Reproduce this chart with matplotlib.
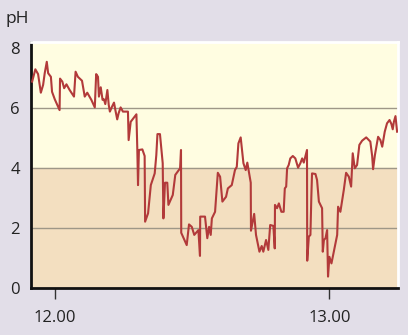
import matplotlib
matplotlib.use("Agg")
import matplotlib.pyplot as plt

# time in minutes after 12.00, pH
minutes = [
    -5.0, -4.3, -3.7, -3.1, -2.6, -2.25, -1.8, -1.5, -0.9, -0.65, -0.05, 1.0,
    1.1, 1.6, 2.0, 2.5, 3.2, 4.15, 4.5, 5.0, 5.9, 6.5, 7.05, 7.95, 8.7, 9.0,
    9.4, 9.6, 10.0, 10.4, 10.7, 11.0, 11.45, 11.75, 12.0, 12.45, 12.9, 13.2,
    13.6, 13.9, 14.35, 14.85, 15.95, 16.1, 16.55, 17.8, 18.0, 18.15, 18.35,
    19.1, 19.6, 19.7, 20.35, 20.95, 21.8, 22.15, 22.4, 22.95, 23.55, 23.7,
    24.05, 24.55, 24.8, 25.75, 26.3, 27.35, 27.55, 27.6, 28.8, 29.3, 29.9,
    30.45, 31.35, 31.7, 31.75, 32.8, 33.3, 33.7, 34.05, 34.3, 35.0, 35.6,
    36.1, 36.6, 37.4, 37.8, 38.65, 39.35, 39.75, 40.1, 40.6, 41.2, 41.7,
    42.05, 42.8, 42.85, 43.55, 43.95, 44.7, 45.2, 45.55, 46.15, 46.65, 47.05,
    47.75, 48.05, 48.1, 48.55, 48.95, 49.5, 50.0, 50.25, 50.55, 50.75, 51.1,
    51.45, 52.0, 52.55, 53.15, 53.65, 54.05, 54.4, 55.1, 55.15, 55.5, 55.85,
    56.05, 56.2, 56.95, 57.3, 57.7, 58.4, 58.55, 58.8, 59.15, 59.5, 59.7,
    60.0, 60.45, 61.2, 61.7, 61.9, 62.4, 63.15, 63.65, 64.25, 64.75, 65.1,
    65.55, 66.05, 66.55, 67.15, 68.05, 68.95, 69.35, 69.55, 69.95, 70.65,
    71.15, 71.55, 72.1, 72.6, 73.15, 73.55, 73.85, 74.1, 74.45, 74.8,
]
ph = [
    6.88, 7.29, 7.13, 6.51, 6.77, 7.16, 7.54, 7.16, 7.04, 6.54, 6.29, 5.93,
    6.98, 6.88, 6.66, 6.79, 6.6, 6.38, 7.21, 7.04, 6.91, 6.38, 6.51, 6.27,
    6.02, 7.13, 7.04, 6.38, 6.69, 6.27, 6.29, 6.13, 6.6, 6.1, 5.88, 6.04,
    6.18, 5.93, 5.62, 5.82, 6.02, 5.88, 5.88, 4.93, 5.54, 5.79, 4.6, 3.43,
    4.6, 4.62, 4.4, 2.21, 2.49, 3.43, 3.82, 4.43, 5.13, 5.13, 4.16, 2.32,
    3.51, 3.51, 2.77, 3.1, 3.77, 3.99, 4.6, 1.84, 1.43, 2.12, 2.04,
    1.77, 1.93, 1.07, 2.38, 2.38, 1.66, 2.04, 1.77, 2.32, 2.54, 3.84,
    3.71, 2.88, 3.04, 3.32, 3.43, 3.93, 4.04, 4.82, 5.02, 4.16, 3.93,
    4.18, 3.51, 1.91, 2.47, 1.77, 1.21, 1.4, 1.21, 1.6, 1.27, 2.1,
    2.07, 1.32, 2.77, 2.66, 2.82, 2.54, 2.54, 3.32, 3.38, 3.99, 4.1,
    4.32, 4.4, 4.32, 4.01, 4.16, 4.32, 4.18, 4.6, 0.91, 1.71, 1.77,
    3.04, 3.82, 3.8, 3.6, 2.88, 2.66, 1.21, 1.6, 1.66, 1.93, 0.38,
    1.04, 0.82, 1.38, 1.77, 2.71, 2.54, 3.27, 3.84, 3.71, 3.38, 4.49,
    3.99, 4.1, 4.77, 4.91, 5.02, 4.88, 4.4, 3.96, 4.43, 5.04,
    4.93, 4.71, 5.21, 5.49, 5.6, 5.47, 5.29, 5.54, 5.73, 5.21,
]
x_ticks = [0, 60]
x_labels = ["12.00", "13.00"]
y_ticks = [0, 2, 4, 6, 8]

plt.rcParams["font.family"] = ["Open Sans", "DejaVu Sans"]

fig = plt.figure(figsize=(4.08, 3.35), dpi=100, facecolor="#E2DEE8")
ax = fig.add_axes([31 / 408, 1 - 288 / 335, 367 / 408, 246 / 335])
ax.set_facecolor("#FFFDE1")
ax.axhspan(0, 4, color="#F3DFC0", zorder=0)

for y in (2, 4, 6):
    ax.axhline(y, color="#9E9787", lw=1.0, zorder=1)

ax.plot(minutes, ph, color="#B23A3A", lw=1.5, zorder=3)

ax.set_xlim(-5.25, 75.0)
ax.set_ylim(0, 8.2)
ax.set_xticks(x_ticks)
ax.set_xticklabels(x_labels)
ax.set_yticks(y_ticks)

ax.tick_params(axis="x", length=8, width=1, color="#333333", pad=8,
               labelsize=12, labelcolor="#222222")
ax.tick_params(axis="y", length=0, pad=8, labelsize=12,
               labelcolor="#222222")

for side in ("left", "bottom"):
    ax.spines[side].set_color("#111111")
    ax.spines[side].set_linewidth(2)
for side in ("top", "right"):
    ax.spines[side].set_color("white")
    ax.spines[side].set_linewidth(2)

fig.text(17 / 408, 1 - 19 / 335, "pH", ha="center", va="center",
         fontsize=12.5, color="#222222")

fig.savefig("out.png", dpi=100, facecolor=fig.get_facecolor())
